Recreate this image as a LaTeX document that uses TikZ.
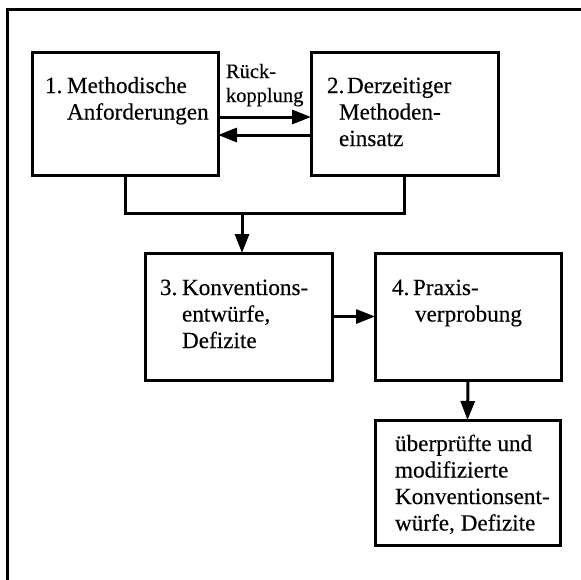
\documentclass[tikz,border=0pt]{standalone}
\usepackage{fontspec}
\setmainfont{Liberation Serif}[FakeBold=0.3]
\usetikzlibrary{arrows.meta}
\begin{document}
\begin{tikzpicture}[x=1pt,y=-1pt,
  lw/.style={line width=3pt},
  box/.style={draw,lw,inner sep=0pt,outer sep=0pt},
  txt/.style={anchor=base west,inner sep=0pt,outer sep=0pt,font=\fontsize{23.2}{26.5}\selectfont},
  small/.style={anchor=base west,inner sep=0pt,outer sep=0pt,font=\fontsize{20.5}{24}\selectfont},
  conn/.style={lw},
  arr/.style={lw,-{Triangle[length=19pt,width=14pt]}}]
\useasboundingbox (0,0) rectangle (581,579);
% outer frame (partially visible)
\coordinate (fa) at (7,579);
\coordinate (fb) at (7,9);
\coordinate (fc) at (581,9);
\draw[lw,line cap=rect] (fa) -- (fb) -- (fc);
% boxes
\node[box,minimum width=186pt,minimum height=123pt] (b1) at (125,113.5) {};
\node[box,minimum width=187pt,minimum height=123pt] (b2) at (404.5,113.5) {};
\node[box,minimum width=187pt,minimum height=127pt] (b3) at (238.5,316.5) {};
\node[box,minimum width=186pt,minimum height=127pt] (b4) at (468,316.5) {};
\node[box,minimum width=185pt,minimum height=125pt] (b5) at (467.5,482.5) {};
% texts
\node[txt] (t1) at (45,93) {\begin{tabular}[t]{@{}l@{}}\makebox[22pt][l]{1.}Methodische\\\hspace{22pt}Anforderungen\end{tabular}};
\node[txt] (t2) at (327,93) {\begin{tabular}[t]{@{}l@{}}\makebox[20pt][l]{2.}Derzeitiger\\\hspace{12pt}Methoden-\\\hspace{12pt}einsatz\end{tabular}};
\node[txt] (t3) at (160,295) {\begin{tabular}[t]{@{}l@{}}\makebox[22pt][l]{3.}Konventions-\\\hspace{22pt}entwürfe,\\\hspace{22pt}Defizite\end{tabular}};
\node[txt] (t4) at (392,295) {\begin{tabular}[t]{@{}l@{}}\makebox[21pt][l]{4.}Praxis-\\\hspace{23pt}verprobung\end{tabular}};
\node[txt] (t5) at (395,451) {\begin{tabular}[t]{@{}l@{}}überprüfte und\\modifizierte\\Konventionsent-\\würfe, Defizite\end{tabular}};
\node[small] (rk) at (226,78) {\begin{tabular}[t]{@{}l@{}}Rück-\\kopplung\end{tabular}};
% connectors
\draw[arr] ([yshift=-3.5pt]b1.east) -- ([yshift=-3.5pt]b2.west);
\draw[arr] ([yshift=-21.5pt]b2.west) -- ([yshift=-21.5pt]b1.west -| b1.east);
\coordinate (m) at (242,213);
\draw[conn] (b1.south) -- (b1.south |- m) -- (b2.south |- m) -- (b2.south);
\draw[arr] (m) -- (m |- b3.north);
\draw[arr] (b3.east) -- (b4.west);
\draw[arr] (b4.south) -- (b5.north);
\end{tikzpicture}
\end{document}
